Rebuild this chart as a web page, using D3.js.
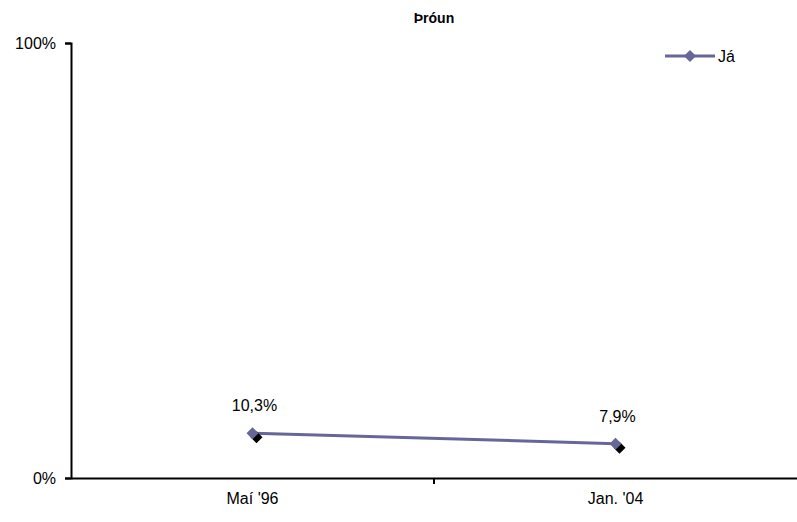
<!DOCTYPE html>
<html><head><meta charset="utf-8">
<script src="https://cdn.jsdelivr.net/npm/d3@7"></script>
<style>body{margin:0;background:#fff}svg{display:block;font-family:"Liberation Sans",Arial,sans-serif}</style>
</head><body><svg id="c" width="797" height="522"></svg>
<script>
const categories = ["Maí '96", "Jan. '04"];
const values = [0.103, 0.079];
const valueLabels = ["10,3%", "7,9%"];
const yTicks = [0, 1];
const yTickLabels = ["0%", "100%"];
const seriesName = "Já";
const title = "Þróun";

const svg = d3.select("#c");
const m = {l:71, r:797, t:43, b:478};
const x = d3.scaleBand().domain(categories).range([m.l, m.r]);
const y = d3.scaleLinear().domain([0,1]).range([m.b, m.t]);
const col = "#666699";
const FS = 16;

svg.append("text").attr("x",434).attr("y",23).attr("text-anchor","middle")
  .attr("font-weight","bold").attr("font-size",14).text(title);

const ya = svg.append("g").attr("transform",`translate(${m.l},0)`)
  .call(d3.axisLeft(y).tickValues(yTicks).tickFormat((d,i)=>yTickLabels[i]).tickSizeOuter(0).tickSize(6));
ya.select(".domain").attr("stroke","#000").attr("stroke-width",2);
ya.selectAll(".tick line").attr("stroke-width",2);
ya.selectAll(".tick text").attr("font-size",FS).attr("font-family","Liberation Sans, Arial, sans-serif").attr("fill","#000").attr("x",-15);

const xa = svg.append("g").attr("transform",`translate(0,${m.b})`)
  .call(d3.axisBottom(x).tickSize(0).tickSizeOuter(0).tickPadding(15));
xa.select(".domain").attr("stroke","#000").attr("stroke-width",2);
xa.selectAll(".tick text").attr("font-size",FS).attr("font-family","Liberation Sans, Arial, sans-serif").attr("fill","#000");
const bounds = categories.slice(1).map(c => x(c));
svg.selectAll(".bt").data(bounds).enter().append("line")
  .attr("x1",d=>d).attr("x2",d=>d).attr("y1",m.b).attr("y2",m.b+6)
  .attr("stroke","#000").attr("stroke-width",2);

const cx = d => x(d) + x.bandwidth()/2;
const pts = categories.map((c,i)=>[cx(c), y(values[i])]);

svg.append("path").attr("d", d3.line()(pts)).attr("fill","none").attr("stroke",col).attr("stroke-width",3);

const sq = d3.symbol().type(d3.symbolSquare).size(72);
svg.selectAll(".sh").data(pts).enter().append("path")
  .attr("d", sq).attr("transform", d=>`translate(${d[0]+4},${d[1]+4}) rotate(45)`).attr("fill","#000");
svg.selectAll(".mk").data(pts).enter().append("path")
  .attr("d", sq).attr("transform", d=>`translate(${d[0]},${d[1]}) rotate(45)`).attr("fill",col);

svg.selectAll(".vl").data(pts).enter().append("text")
  .attr("x", d=>d[0]+2).attr("y", d=>d[1]-22).attr("text-anchor","middle")
  .attr("font-size",FS).text((d,i)=>valueLabels[i]);

const lg = svg.append("g");
lg.append("line").attr("x1",665).attr("x2",715).attr("y1",56).attr("y2",56).attr("stroke",col).attr("stroke-width",3);
lg.append("path").attr("d",sq).attr("transform","translate(690,56) rotate(45)").attr("fill",col);
lg.append("text").attr("x",718).attr("y",62).attr("font-size",FS).text(seriesName);
</script></body></html>
